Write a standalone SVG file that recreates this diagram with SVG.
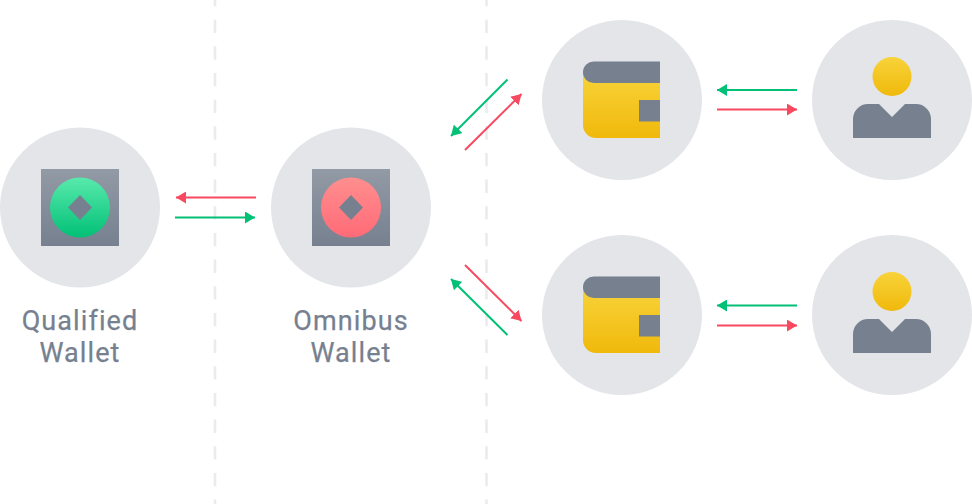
<svg xmlns="http://www.w3.org/2000/svg" xmlns:xlink="http://www.w3.org/1999/xlink" width="972" height="504" viewBox="0 0 972 504">
<style>
.bg{fill:#e3e5e9}
.g{fill:#76808f}
.lbl{font:400 27px Roboto,"Noto Sans","Liberation Sans",sans-serif;letter-spacing:1.1px;fill:#76808f;stroke:#76808f;stroke-width:.25px;text-anchor:middle}
.div{stroke:#e9ebee;stroke-width:2.6;stroke-dasharray:13.33 13.33;fill:none}
.r{stroke:#f84960;stroke-width:2;fill:none}
.n{stroke:#02c076;stroke-width:2;fill:none}
</style>
<defs>
<linearGradient id="sq" x1="0" y1="0" x2="0" y2="1"><stop offset="0" stop-color="#929aa5"/><stop offset="1" stop-color="#76808f"/></linearGradient>
<linearGradient id="gr" x1="0" y1="0" x2="0" y2="1"><stop offset="0" stop-color="#58eaad"/><stop offset="1" stop-color="#02c076"/></linearGradient>
<linearGradient id="rd" x1="0" y1="0" x2="0" y2="1"><stop offset="0" stop-color="#ff8e8e"/><stop offset="1" stop-color="#ff6b78"/></linearGradient>
<linearGradient id="ye" x1="0" y1="0" x2="0" y2="1"><stop offset="0" stop-color="#f8d33a"/><stop offset="1" stop-color="#f0b90b"/></linearGradient>
<marker id="mr" markerUnits="userSpaceOnUse" markerWidth="11" markerHeight="12" refX="10" refY="6" orient="auto"><path d="M0 0L10 6L0 12Z" fill="#f84960"/></marker>
<marker id="mn" markerUnits="userSpaceOnUse" markerWidth="11" markerHeight="12" refX="10" refY="6" orient="auto"><path d="M0 0L10 6L0 12Z" fill="#02c076"/></marker>
<g id="wallet"><path d="M583 72H660V138H596A13 13 0 0 1 583 125Z" fill="url(#ye)"/><path d="M594 61.500H660V83H594A10.750 10.750 0 0 1 583 72.250A10.750 10.750 0 0 1 594 61.500Z" class="g"/><rect x="639" y="100" width="21" height="21.500" class="g"/></g>
<g id="person"><circle cx="892" cy="76.500" r="19.500" fill="url(#ye)"/><path d="M853 138V119A15 15 0 0 1 868 104H879L892 117L905 104H916A15 15 0 0 1 931 119V138Z" class="g"/></g>
</defs>
<rect width="972" height="504" fill="#fff"/>
<g id="dividers"><path class="div" d="M215 -7V504"/><path class="div" d="M486.500 -7V504"/></g>
<g id="node-qualified"><circle class="bg" cx="80" cy="207.500" r="80"/><rect x="41" y="169" width="78" height="77" fill="url(#sq)"/><circle cx="80" cy="207.500" r="30" fill="url(#gr)"/><path d="M80 195L92 207.500L80 220L68 207.500Z" class="g"/><text class="lbl" x="80" y="330">Qualified</text><text class="lbl" x="80" y="362">Wallet</text></g>
<g id="node-omnibus"><circle class="bg" cx="351" cy="207.500" r="80"/><rect x="312" y="169" width="78" height="77" fill="url(#sq)"/><circle cx="351" cy="207.500" r="30" fill="url(#rd)"/><path d="M351 195L363 207.500L351 220L339 207.500Z" class="g"/><text class="lbl" x="351" y="330">Omnibus</text><text class="lbl" x="351" y="362">Wallet</text></g>
<g id="node-wallet-top"><circle class="bg" cx="622" cy="100" r="80"/><use xlink:href="#wallet" href="#wallet"/></g>
<g id="node-wallet-bottom"><circle class="bg" cx="622" cy="315" r="80"/><use xlink:href="#wallet" href="#wallet" y="215"/></g>
<g id="node-user-top"><circle class="bg" cx="892" cy="100" r="80"/><use xlink:href="#person" href="#person"/></g>
<g id="node-user-bottom"><circle class="bg" cx="892" cy="315" r="80"/><use xlink:href="#person" href="#person" y="215"/></g>
<g id="connectors">
<path class="r" d="M256 197.500H176" marker-end="url(#mr)"/>
<path class="n" d="M175 217.500H255" marker-end="url(#mn)"/>
<path class="n" d="M507.500 79.500L451 136" marker-end="url(#mn)"/>
<path class="r" d="M465 150L521.500 94" marker-end="url(#mr)"/>
<path class="n" d="M797 90H717" marker-end="url(#mn)"/>
<path class="r" d="M717 109.500H797" marker-end="url(#mr)"/>
<path class="r" d="M465 265L521.500 321" marker-end="url(#mr)"/>
<path class="n" d="M507.500 335L451 279" marker-end="url(#mn)"/>
<path class="n" d="M797 305.500H717" marker-end="url(#mn)"/>
<path class="r" d="M717 325.500H797" marker-end="url(#mr)"/>
</g>
</svg>
